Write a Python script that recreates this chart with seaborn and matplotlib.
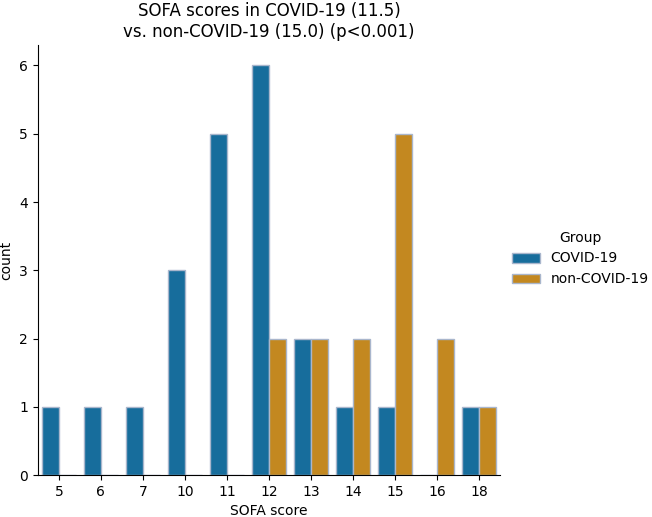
import pandas as pd
import seaborn as sns
import matplotlib.pyplot as plt

scores = ['5', '6', '7', '10', '11', '12', '13', '14', '15', '16', '18']
covid = [1, 1, 1, 3, 5, 6, 2, 1, 1, 0, 1]
non_covid = [0, 0, 0, 0, 0, 2, 2, 2, 5, 2, 1]

df = pd.DataFrame({
    'SOFA score': scores * 2,
    'count': covid + non_covid,
    'Group': ['COVID-19'] * len(scores) + ['non-COVID-19'] * len(scores),
})

g = sns.catplot(data=df, x='SOFA score', y='count', hue='Group', kind='bar',
                palette='colorblind', saturation=0.75, order=scores,
                edgecolor='#a9b6cc', linewidth=1, height=5.17, aspect=1.0)
g.figure.set_size_inches(6.52, 5.17)
g.figure.subplots_adjust(left=0.058, right=0.767, bottom=0.081, top=0.913)

ax = g.ax
ax.set_ylim(0, 6.3)
ax.set_title('SOFA scores in COVID-19 (11.5)\nvs. non-COVID-19 (15.0) (p<0.001)', fontsize=12)

leg = g._legend
leg.set_bbox_to_anchor((0.89, 0.5))
leg.set_loc('center')

g.figure.savefig('out.png', dpi=100)
